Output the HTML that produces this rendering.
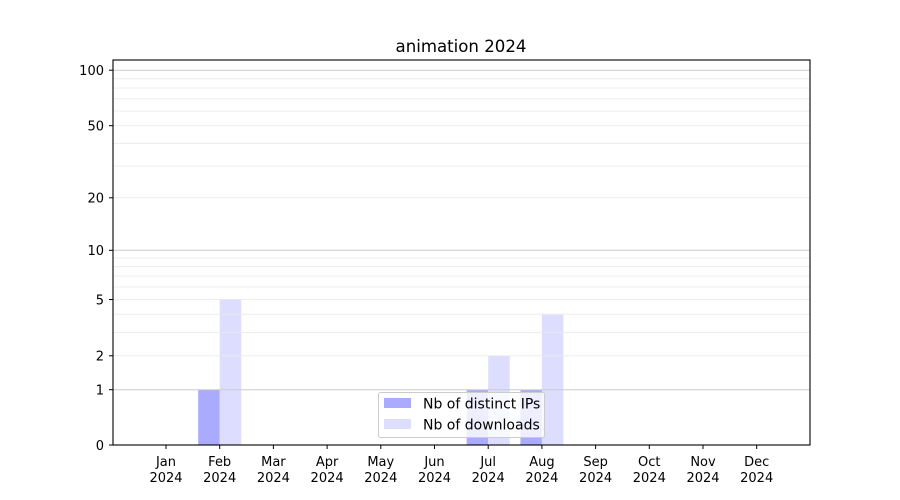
<!DOCTYPE html>
<html><head><meta charset="utf-8"><style>html,body{margin:0;padding:0;background:#fff}svg{display:block}text{font-family:"DejaVu Sans","Liberation Sans",sans-serif;font-size:13px;fill:#000}</style></head>
<body>
<svg width="900" height="500" viewBox="0 0 900 500" xmlns="http://www.w3.org/2000/svg">
<rect width="900" height="500" fill="#fff"/>
<text x="461" y="52" text-anchor="middle" style="font-size:16.6px">animation 2024</text>
<g>
<rect x="198.2" y="389.7" width="21.5" height="55.3" fill="#aaaaff"/>
<rect x="219.7" y="299.5" width="21.5" height="145.5" fill="#ddddff"/>
<rect x="466.7" y="389.7" width="21.5" height="55.3" fill="#aaaaff"/>
<rect x="488.2" y="355.8" width="21.5" height="89.2" fill="#ddddff"/>
<rect x="520.4" y="389.7" width="21.5" height="55.3" fill="#aaaaff"/>
<rect x="541.9" y="314.3" width="21.5" height="130.7" fill="#ddddff"/>
</g>
<g stroke="#ebebeb" stroke-width="1" opacity="0.9">
<line x1="113" x2="810" y1="355.8" y2="355.8"/>
<line x1="113" x2="810" y1="332.4" y2="332.4"/>
<line x1="113" x2="810" y1="314.3" y2="314.3"/>
<line x1="113" x2="810" y1="299.5" y2="299.5"/>
<line x1="113" x2="810" y1="287.0" y2="287.0"/>
<line x1="113" x2="810" y1="276.1" y2="276.1"/>
<line x1="113" x2="810" y1="266.6" y2="266.6"/>
<line x1="113" x2="810" y1="258.0" y2="258.0"/>
<line x1="113" x2="810" y1="197.8" y2="197.8"/>
<line x1="113" x2="810" y1="166.1" y2="166.1"/>
<line x1="113" x2="810" y1="143.4" y2="143.4"/>
<line x1="113" x2="810" y1="125.7" y2="125.7"/>
<line x1="113" x2="810" y1="111.1" y2="111.1"/>
<line x1="113" x2="810" y1="98.8" y2="98.8"/>
<line x1="113" x2="810" y1="88.1" y2="88.1"/>
<line x1="113" x2="810" y1="78.7" y2="78.7"/>
</g>
<g stroke="#cccccc" stroke-width="1">
<line x1="113" x2="810" y1="389.7" y2="389.7"/>
<line x1="113" x2="810" y1="250.3" y2="250.3"/>
<line x1="113" x2="810" y1="70.2" y2="70.2"/>
</g>
<rect x="113" y="60" width="697" height="385" fill="none" stroke="#000" stroke-width="1.1"/>
<g stroke="#000" stroke-width="1">
<line x1="109" x2="113" y1="445" y2="445"/>
<line x1="109" x2="113" y1="389.7" y2="389.7"/>
<line x1="109" x2="113" y1="355.8" y2="355.8"/>
<line x1="109" x2="113" y1="299.5" y2="299.5"/>
<line x1="109" x2="113" y1="250.3" y2="250.3"/>
<line x1="109" x2="113" y1="197.8" y2="197.8"/>
<line x1="109" x2="113" y1="125.7" y2="125.7"/>
<line x1="109" x2="113" y1="70.2" y2="70.2"/>
</g>
<g text-anchor="end">
<text x="104" y="450">0</text>
<text x="104" y="394.5">1</text>
<text x="104" y="360.5">2</text>
<text x="104" y="304.5">5</text>
<text x="104" y="255">10</text>
<text x="104" y="202.5">20</text>
<text x="104" y="130.5">50</text>
<text x="104" y="75">100</text>
</g>
<g stroke="#000" stroke-width="1">
<line x1="166" x2="166" y1="445" y2="449"/>
<line x1="219.7" x2="219.7" y1="445" y2="449"/>
<line x1="273.4" x2="273.4" y1="445" y2="449"/>
<line x1="327.1" x2="327.1" y1="445" y2="449"/>
<line x1="380.8" x2="380.8" y1="445" y2="449"/>
<line x1="434.5" x2="434.5" y1="445" y2="449"/>
<line x1="488.2" x2="488.2" y1="445" y2="449"/>
<line x1="541.9" x2="541.9" y1="445" y2="449"/>
<line x1="595.6" x2="595.6" y1="445" y2="449"/>
<line x1="649.3" x2="649.3" y1="445" y2="449"/>
<line x1="703" x2="703" y1="445" y2="449"/>
<line x1="756.7" x2="756.7" y1="445" y2="449"/>
</g>
<g text-anchor="middle">
<text x="166" y="466">Jan</text><text x="166" y="482">2024</text>
<text x="219.7" y="466">Feb</text><text x="219.7" y="482">2024</text>
<text x="273.4" y="466">Mar</text><text x="273.4" y="482">2024</text>
<text x="327.1" y="466">Apr</text><text x="327.1" y="482">2024</text>
<text x="380.8" y="466">May</text><text x="380.8" y="482">2024</text>
<text x="434.5" y="466">Jun</text><text x="434.5" y="482">2024</text>
<text x="488.2" y="466">Jul</text><text x="488.2" y="482">2024</text>
<text x="541.9" y="466">Aug</text><text x="541.9" y="482">2024</text>
<text x="595.6" y="466">Sep</text><text x="595.6" y="482">2024</text>
<text x="649.3" y="466">Oct</text><text x="649.3" y="482">2024</text>
<text x="703" y="466">Nov</text><text x="703" y="482">2024</text>
<text x="756.7" y="466">Dec</text><text x="756.7" y="482">2024</text>
</g>
<rect x="378.5" y="392.5" width="166" height="45" rx="2" fill="#fff" fill-opacity="0.8" stroke="#cccccc" stroke-width="1"/>
<rect x="384" y="398" width="27" height="10" fill="#aaaaff"/>
<rect x="384" y="419" width="27" height="10" fill="#ddddff"/>
<text x="423" y="408.5" style="font-size:14px">Nb of distinct IPs</text>
<text x="423" y="429.5" style="font-size:14px">Nb of downloads</text>
</svg>
</body></html>
